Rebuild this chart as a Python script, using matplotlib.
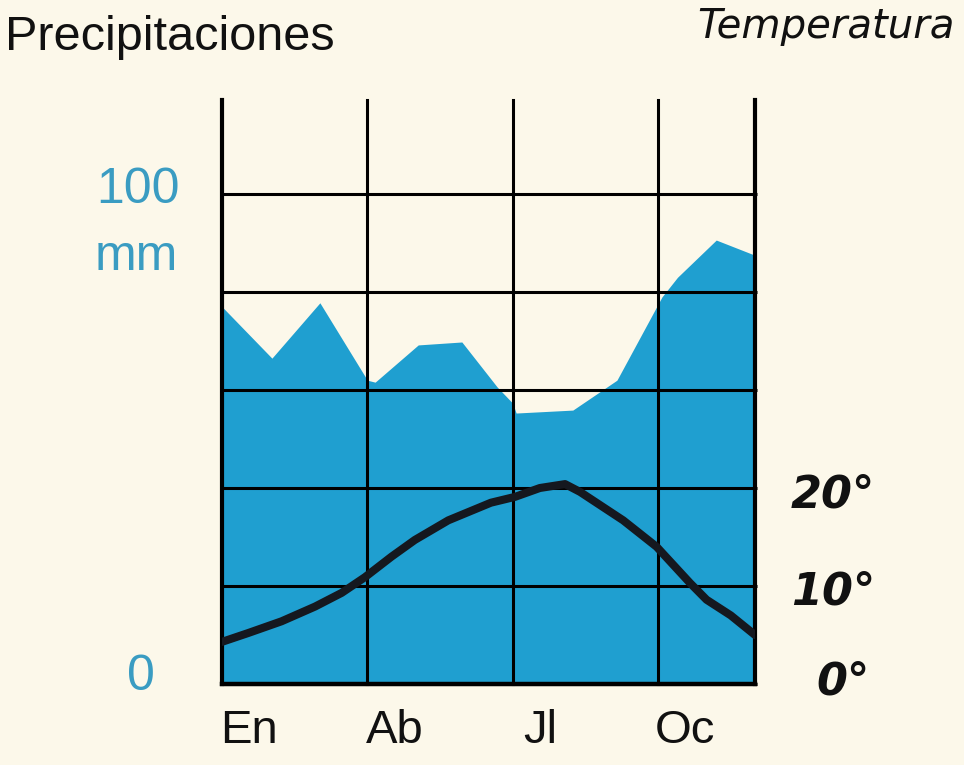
import matplotlib
matplotlib.use("Agg")
import numpy as np
import matplotlib.pyplot as plt

# precipitation outline (month index, mm)
prec_month = [0, 1.03, 2.02, 3.0, 3.16, 4.05, 4.95, 5.68, 6.0, 6.07, 7.24, 8.15, 9.08, 9.4, 10.2, 11]
prec_mm = [77, 66.5, 77.8, 62, 61.6, 69.2, 69.8, 60.6, 57.3, 55.3, 55.9, 62, 79, 83, 90.6, 87.5]

# temperature curve (month index, degrees C)
temp_month = [0, 0.54, 1.23, 1.92, 2.47, 2.95, 3.5, 3.98, 4.67, 5.55, 6.05, 6.56,
              7.08, 7.39, 8.28, 8.97, 9.66, 10.0, 10.5, 11]
temp_c = [4.3, 5.2, 6.4, 7.9, 9.3, 10.9, 13.0, 14.7, 16.7, 18.5, 19.1, 20.0,
          20.4, 19.6, 16.7, 14.0, 10.3, 8.6, 7.0, 5.0]

month_lines = [0, 3, 6, 9, 11]
month_labels = ["En", "Ab", "Jl", "Oc"]
mm_levels = [0, 20, 40, 60, 80, 100]
temp_ticks = [0, 10, 20]

bg = "#fcf8ea"
blue = "#1f9fd0"
blue_txt = "#3a9cc2"
font = ["Liberation Sans", "DejaVu Sans"]

fig = plt.figure(figsize=(9.64, 7.65), dpi=100, facecolor=bg)
ax = fig.add_axes([222 / 964, 1 - 684 / 765, 533 / 964, 584 / 765])
ax.set_facecolor(bg)
ymax = 584 / 4.9
ax.set_xlim(0, 11)
ax.set_ylim(0, ymax)

ax.fill_between(prec_month, 0, prec_mm, color=blue, lw=0, zorder=1)

for m in mm_levels:
    ax.plot([0, 11.05], [m, m], color="black", lw=2.2, zorder=3,
            solid_capstyle="butt", clip_on=False)
for xm in month_lines:
    w = 3.0 if xm in (0, 11) else 2.2
    ax.plot([xm, xm], [0, ymax], color="black", lw=w, zorder=3, clip_on=False)
ax.plot([0, 11], [0, 0], color="black", lw=3.2, zorder=3, clip_on=False)

for s in ax.spines.values():
    s.set_visible(False)
ax.set_xticks([])
ax.set_yticks([])

ax2 = ax.twinx()
ax2.set_ylim(0, ymax / 2)
ax2.set_xlim(0, 11)
ax2.plot(temp_month, temp_c, color="#15181f", lw=5.8, zorder=4,
         solid_joinstyle="round", solid_capstyle="round")
for s in ax2.spines.values():
    s.set_visible(False)
ax2.set_yticks([])

# month labels under the chart
for i, lab in enumerate(month_labels):
    ax.text(month_lines[i] + 0.56, -12.0, lab, ha="center", va="baseline",
            fontsize=34, family=font, color="#111111")

# precipitation scale (left, blue)
ytr = ax.get_yaxis_transform()
ax.text(-0.079, 98.2, "100", transform=ytr, ha="right", va="baseline",
        fontsize=36, family=font, color=blue_txt)
ax.text(-0.083, 84.5, "mm", transform=ytr, ha="right", va="baseline",
        fontsize=36, family=font, color=blue_txt)
ax.text(-0.126, -1.2, "0", transform=ytr, ha="right", va="baseline",
        fontsize=36, family=font, color=blue_txt)

# temperature scale (right, bold italic)
ytr2 = ax2.get_yaxis_transform()
for t, base, xr in zip(temp_ticks, [-1.1, 8.1, 18.0], [1.216, 1.225, 1.225]):
    ax2.text(xr, base, f"{t}°", transform=ytr2, ha="right", va="baseline",
             fontsize=32, family="DejaVu Sans", style="italic", weight="bold",
             color="#111111")

fig.text(5 / 964, 1 - 50 / 765, "Precipitaciones", ha="left", va="baseline",
         fontsize=35, family=font, color="#111111")
fig.text(955 / 964, 1 - 38 / 765, "Temperatura", ha="right", va="baseline",
         fontsize=29, family="DejaVu Sans", style="italic", color="#111111")

fig.savefig("out.png", dpi=100, facecolor=bg)
